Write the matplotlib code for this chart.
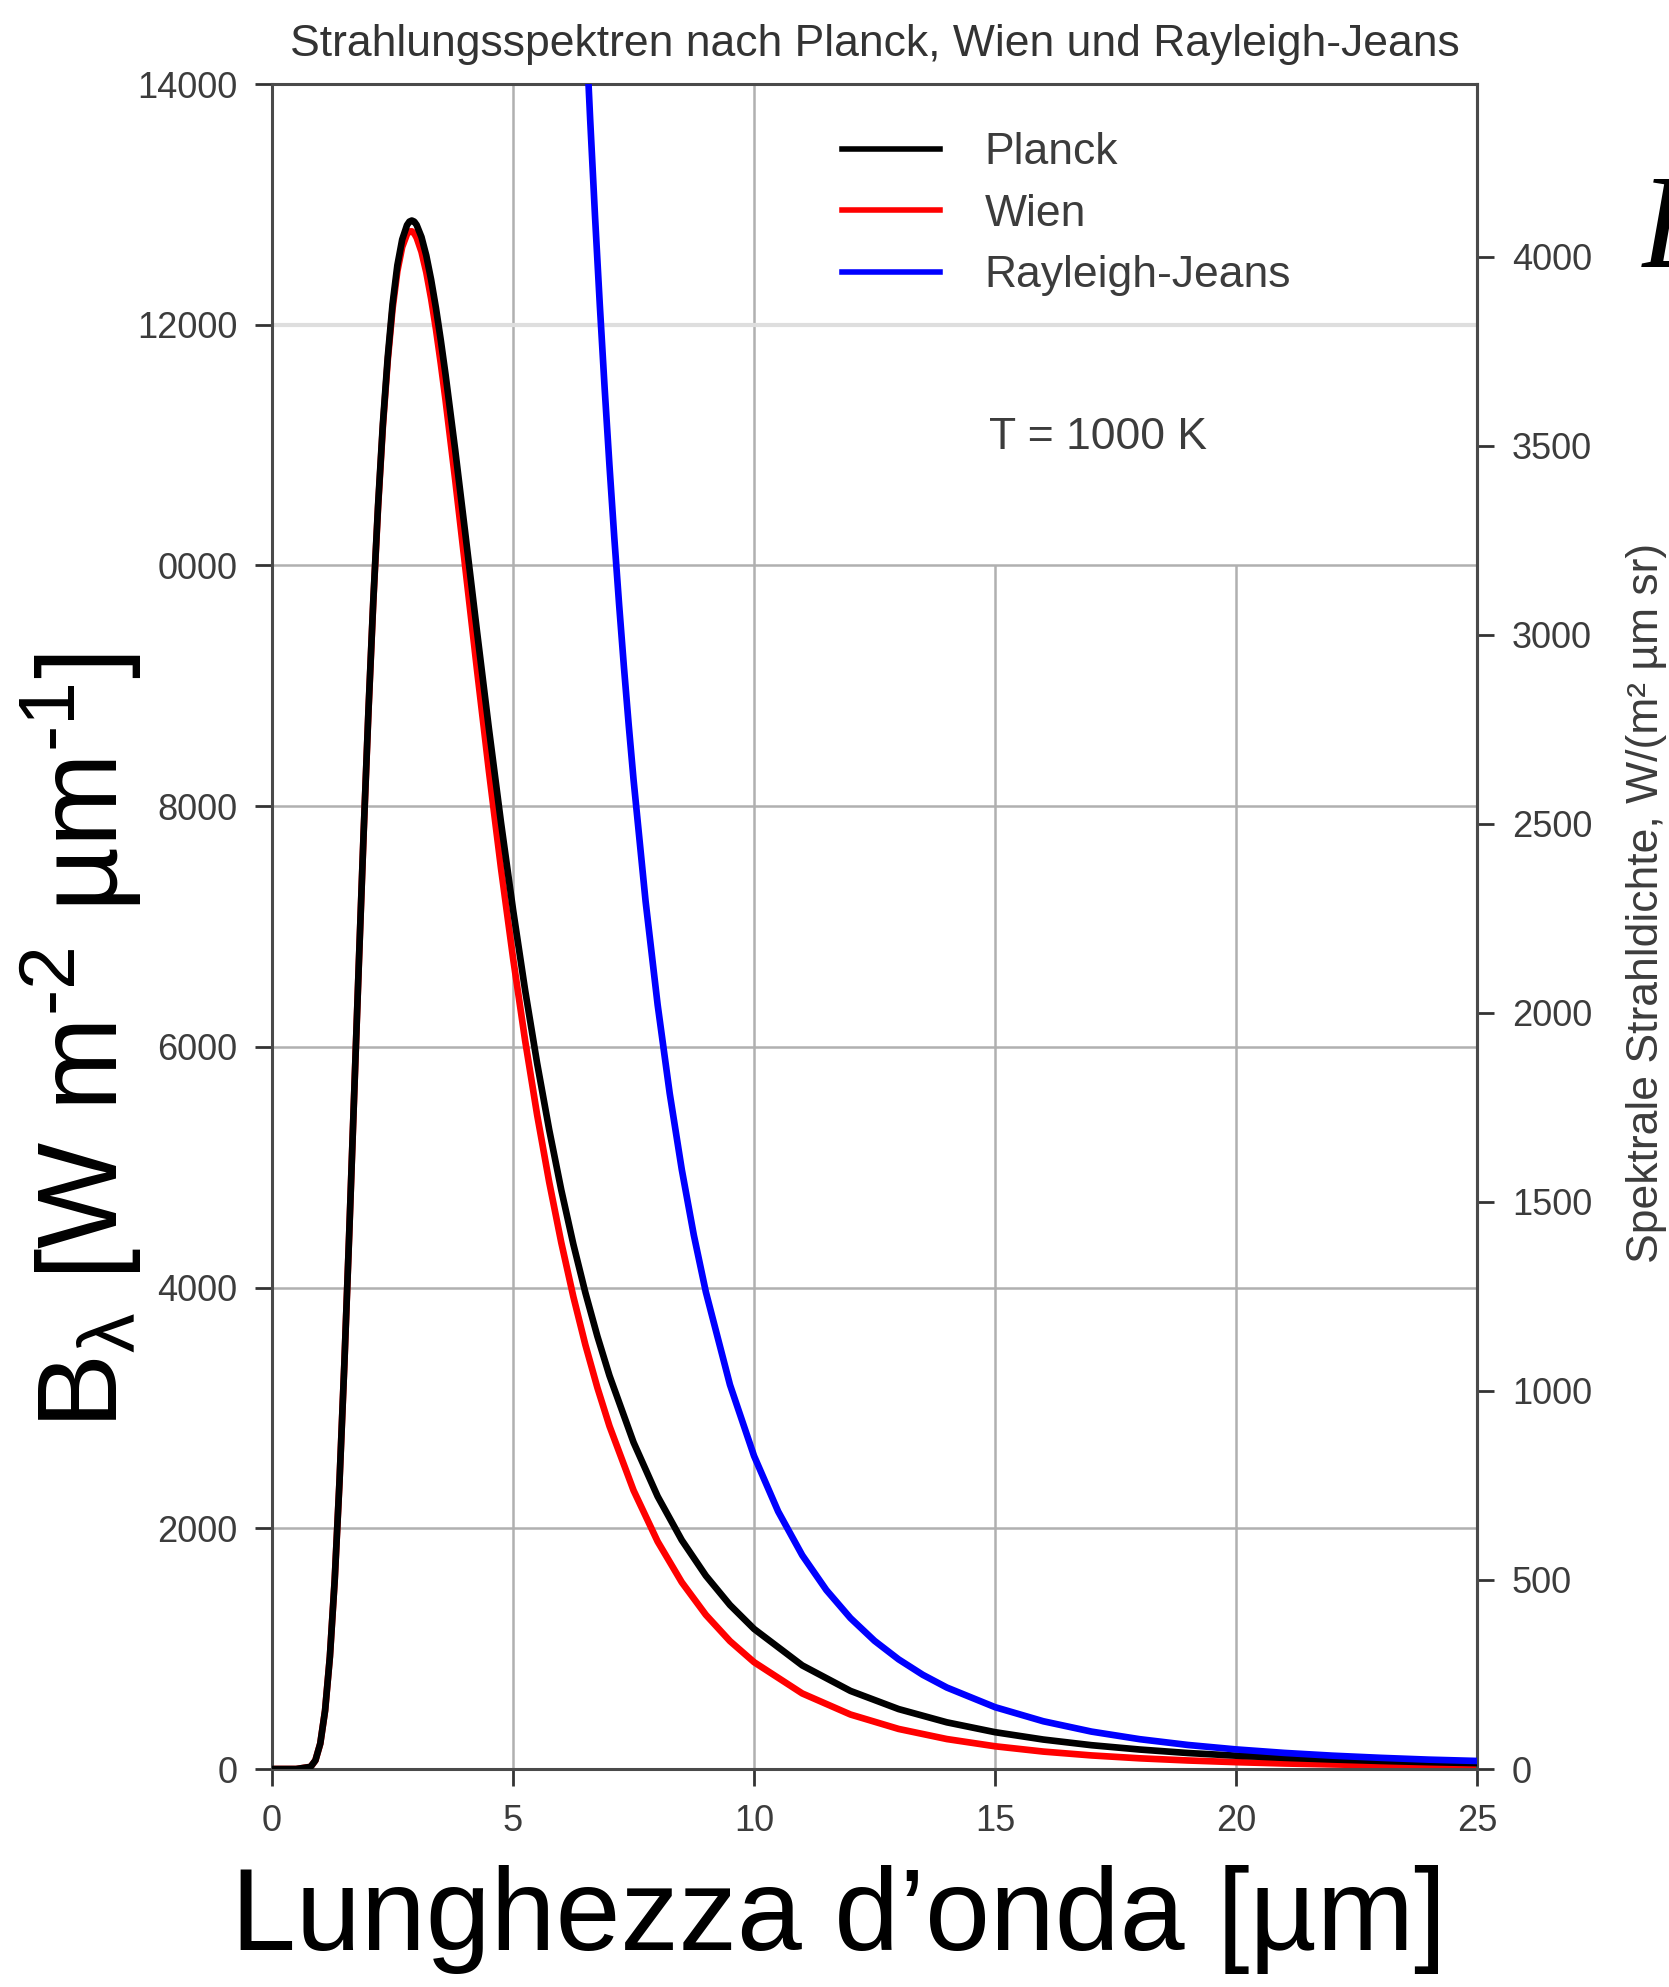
import numpy as np
import matplotlib
matplotlib.use('Agg')
import matplotlib.pyplot as plt
from matplotlib.ticker import FixedLocator, FixedFormatter

plt.rcParams['font.family'] = ['Liberation Sans', 'DejaVu Sans']
plt.rcParams['mathtext.fontset'] = 'custom'
plt.rcParams['mathtext.rm'] = 'Liberation Sans'
plt.rcParams['mathtext.it'] = 'Liberation Sans:italic'

# Spettri di radiazione a T = 1000 K (W m-2 um-1)
lam = [0, 0.5, 0.8, 0.9, 1.0, 1.1, 1.2, 1.3, 1.4, 1.5, 1.6, 1.7, 1.8, 1.9, 2.0,
       2.1, 2.2, 2.3, 2.4, 2.5, 2.6, 2.7, 2.8, 2.85, 2.9, 2.95, 3.0, 3.1, 3.2, 3.3,
       3.4, 3.5, 3.6, 3.8, 4.0,
       4.25, 4.5, 4.75, 5.0, 5.25, 5.5, 5.75, 6.0, 6.25, 6.5, 6.75, 7.0,
       7.5, 8.0, 8.5, 9.0, 9.5, 10,
       11, 12, 13, 14, 15, 16, 17, 18, 19, 20, 21, 22, 23, 24, 25]
planck = [0, 0, 18, 72, 211, 485, 933, 1572, 2394, 3364, 4437, 5563, 6686, 7777, 8792,
          9703, 10502, 11180, 11730, 12171, 12494, 12708, 12828, 12857, 12866, 12857,
          12829, 12729, 12575, 12375,
          12140, 11874, 11585, 10959, 10297,
          9459, 8641, 7864, 7140, 6472, 5863, 5311, 4812, 4362, 3958, 3595, 3269,
          2714, 2265, 1902, 1606, 1363, 1164,
          861, 649, 498, 388, 306, 245, 198, 162, 133, 111, 93, 79, 67, 57, 49]
wien = [0, 0, 18, 72, 211, 485, 933, 1572, 2394, 3364, 4436, 5562, 6684, 7773, 8785,
        9693, 10487, 11159, 11701, 12132, 12445, 12646, 12753, 12775, 12776, 12759,
        12723, 12606, 12435, 12217,
        11964, 11679, 11372, 10710, 10015,
        9139, 8288, 7483, 6738, 6054, 5434, 4876, 4375, 3926, 3525, 3168, 2850,
        2315, 1890, 1552, 1281, 1063, 888,
        628, 453, 333, 249, 189, 145, 113, 89, 71, 57, 46, 38, 31, 26, 22]

lam_rj = [6.4, 6.5, 6.6, 6.7, 6.8, 6.9, 7.0, 7.1, 7.2, 7.3, 7.4, 7.5, 7.75, 8.0, 8.25,
          8.5, 8.75, 9.0, 9.5, 10, 10.5, 11, 11.5, 12, 12.5, 13, 13.5, 14,
          15, 16, 17, 18, 19, 20, 21, 22, 23, 24, 25]
rayleigh = [15501, 14570, 13706, 12906, 12164, 11474, 10832, 10234, 9677, 9158, 8673,
            8220, 7209, 6349, 5614, 4982, 4437, 3964, 3193, 2601, 2140, 1776, 1487,
            1254, 1065, 911, 783, 677, 514, 397, 311, 248, 200, 163, 134, 111, 93,
            78, 67]

yticks = [0, 2000, 4000, 6000, 8000, 10000, 12000, 14000]
ytick_lab = ['0', '2000', '4000', '6000', '8000', '0000', '12000', '14000']
xticks = [0, 5, 10, 15, 20, 25]
rticks = [0, 500, 1000, 1500, 2000, 2500, 3000, 3500, 4000]

grigio = '#3c3c3c'

fig = plt.figure(figsize=(16.69, 19.87), dpi=100)
ax = fig.add_axes([0.163, 0.1097, 0.722, 0.848])

# griglia
ax.vlines([5, 10], 0, 14000, color='#b0b0b0', lw=1.8, zorder=0)
ax.vlines([15, 20], 0, 10000, color='#b0b0b0', lw=1.8, zorder=0)
ax.hlines([2000, 4000, 6000, 8000, 10000], 0, 25, color='#b0b0b0', lw=1.8, zorder=0)
ax.hlines([12000], 0, 25, color='#dedede', lw=3, zorder=0)

ax.plot(lam, wien, color='#ff0000', lw=4.8, label='Wien', zorder=2,
        solid_joinstyle='round')
ax.plot(lam, planck, color='black', lw=4.8, label='Planck', zorder=3,
        solid_joinstyle='round')
ax.plot(lam_rj, rayleigh, color='#0000ff', lw=4.8, label='Rayleigh-Jeans', zorder=4,
        solid_joinstyle='round')

ax.set_xlim(0, 25)
ax.set_ylim(0, 14000)
ax.xaxis.set_major_locator(FixedLocator(xticks))
ax.yaxis.set_major_locator(FixedLocator(yticks))
ax.yaxis.set_major_formatter(FixedFormatter(ytick_lab))
ax.tick_params(axis='both', direction='out', length=12, width=2, colors='#333333',
               labelsize=26, labelcolor=grigio, pad=13)

for s in ax.spines.values():
    s.set_color('#4a4a4a')
    s.set_linewidth(2.2)

sec = ax.secondary_yaxis('right', functions=(lambda v: v / np.pi, lambda v: v * np.pi))
sec.yaxis.set_major_locator(FixedLocator(rticks))
sec.tick_params(direction='out', length=12, width=2, colors='#333333',
                labelsize=26, labelcolor=grigio, pad=13)
sec.spines['right'].set_color('#4a4a4a')
sec.spines['right'].set_linewidth(2.2)

fig.text(0.9868, 0.5455, 'Spektrale Strahldichte, W/(m² µm sr)', fontsize=32,
         color=grigio, rotation=90, ha='center', va='center')

ax.set_title('Strahlungsspektren nach Planck, Wien und Rayleigh-Jeans', fontsize=32,
             color='#333333', pad=20)

h, l = ax.get_legend_handles_labels()
order = [1, 0, 2]
leg = ax.legend([h[i] for i in order], [l[i] for i in order], loc='upper left',
                bbox_to_anchor=(0.44, 0.995), frameon=False, fontsize=32,
                handlelength=2.2, handletextpad=1.0, labelspacing=0.46)
for t in leg.get_texts():
    t.set_color(grigio)
for ln in leg.get_lines():
    ln.set_linewidth(4)

ax.text(0.595, 0.79, 'T = 1000 K', transform=ax.transAxes, fontsize=32, color=grigio,
        va='center', ha='left')

ax.set_ylabel(r'B$_\text{λ}$ [W m$^\text{-2}$ µm$^\text{-1}$]',
              fontsize=81, color='black', va='center')
ax.yaxis.set_label_coords(-0.158, 0.432)
ax.set_xlabel('Lunghezza d’onda [µm]', fontsize=84, color='black', va='center')
ax.xaxis.set_label_coords(0.47, -0.0896)

# lettera tagliata sul bordo destro
fig.text(0.9826, 0.8656, 'B', fontsize=96, family='Liberation Serif', style='italic',
         color='black', ha='left', va='baseline')

fig.savefig('out.png', dpi=100, facecolor='white')
